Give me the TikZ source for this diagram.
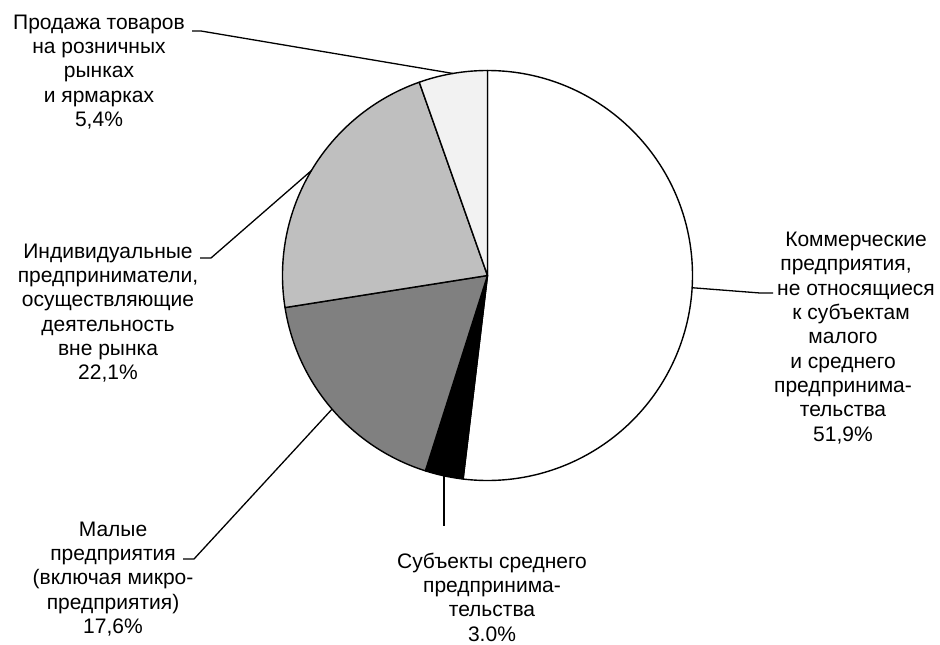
\documentclass[tikz,border=0pt]{standalone}
\usepackage{fontspec}
\setmainfont{Liberation Sans}
\begin{document}
\begin{tikzpicture}[x=1pt,y=-1pt,
  slice/.style={draw=black,line width=1.4pt,line join=round},
  leader/.style={draw=black,line width=1.3pt},
  lbl/.style={align=center,inner sep=0pt,font=\fontsize{21}{24.3}\selectfont}]
\useasboundingbox (0,0) rectangle (940,645);
\coordinate (C) at (487.5,275.5);
\def\R{205}
% slices (code angles: visual clockwise from top)
\filldraw[slice,fill=white] (C) -- ++(-90:\R) arc[start angle=-90,end angle=96.84,radius=\R] -- cycle;
\filldraw[slice,fill=black] (C) -- ++(96.84:\R) arc[start angle=96.84,end angle=107.64,radius=\R] -- cycle;
\filldraw[slice,fill={rgb,255:red,128;green,128;blue,128}] (C) -- ++(107.64:\R) arc[start angle=107.64,end angle=171,radius=\R] -- cycle;
\filldraw[slice,fill={rgb,255:red,191;green,191;blue,191}] (C) -- ++(171:\R) arc[start angle=171,end angle=250.56,radius=\R] -- cycle;
\filldraw[slice,fill={rgb,255:red,242;green,242;blue,242}] (C) -- ++(250.56:\R) arc[start angle=250.56,end angle=270,radius=\R] -- cycle;
% edge points
\path (C) ++(3.42:\R) coordinate (eCom);
\path (C) ++(102.24:\R) coordinate (eMed);
\path (C) ++(139.32:\R) coordinate (eSmall);
\path (C) ++(210.78:\R) coordinate (eInd);
\path (C) ++(260.28:\R) coordinate (eRet);
% labels
\node[lbl] (lRet) at (99,72) {Продажа товаров\\на розничных\\рынках\\и ярмарках\\5,4\%};
\node[lbl] (lInd) at (108,313) {Индивидуальные\\предприниматели,\\осуществляющие\\деятельность\\вне рынка\\22,1\%};
\node[lbl] (lSmall) at (113,579) {Малые\\предприятия\\(включая микро-\\предприятия)\\17,6\%};
\node[lbl] (lMed) at (492,597) {Субъекты среднего\\предпринима-\\тельства\\3.0\%};
\node[lbl] (lCom) at (843,338) {\hspace*{26pt}Коммерческие\\\hspace*{6pt}предприятия,\\\hspace*{26pt}не относящиеся\\\hspace*{16pt}к субъектам\\малого\\и среднего\\предпринима-\\тельства\\51,9\%};
% stub coordinates
\coordinate (sRa) at (192,31); \coordinate (sRb) at (201,31);
\coordinate (sIa) at (200,258); \coordinate (sIb) at (211,258);
\coordinate (sSa) at (183,559); \coordinate (sSb) at (194,559);
\coordinate (sM) at (443.5,526);
\coordinate (sCa) at (760,293); \coordinate (sCb) at (773,293);
% leaders
\draw[leader] (sRa) -- (sRb) -- (eRet);
\draw[leader] (sIa) -- (sIb) -- (eInd);
\draw[leader] (sSa) -- (sSb) -- (eSmall);
\draw[leader] (eMed) -- (eMed |- sM);
\draw[leader] (eCom) -- (sCa) -- (sCb);
\end{tikzpicture}
\end{document}
